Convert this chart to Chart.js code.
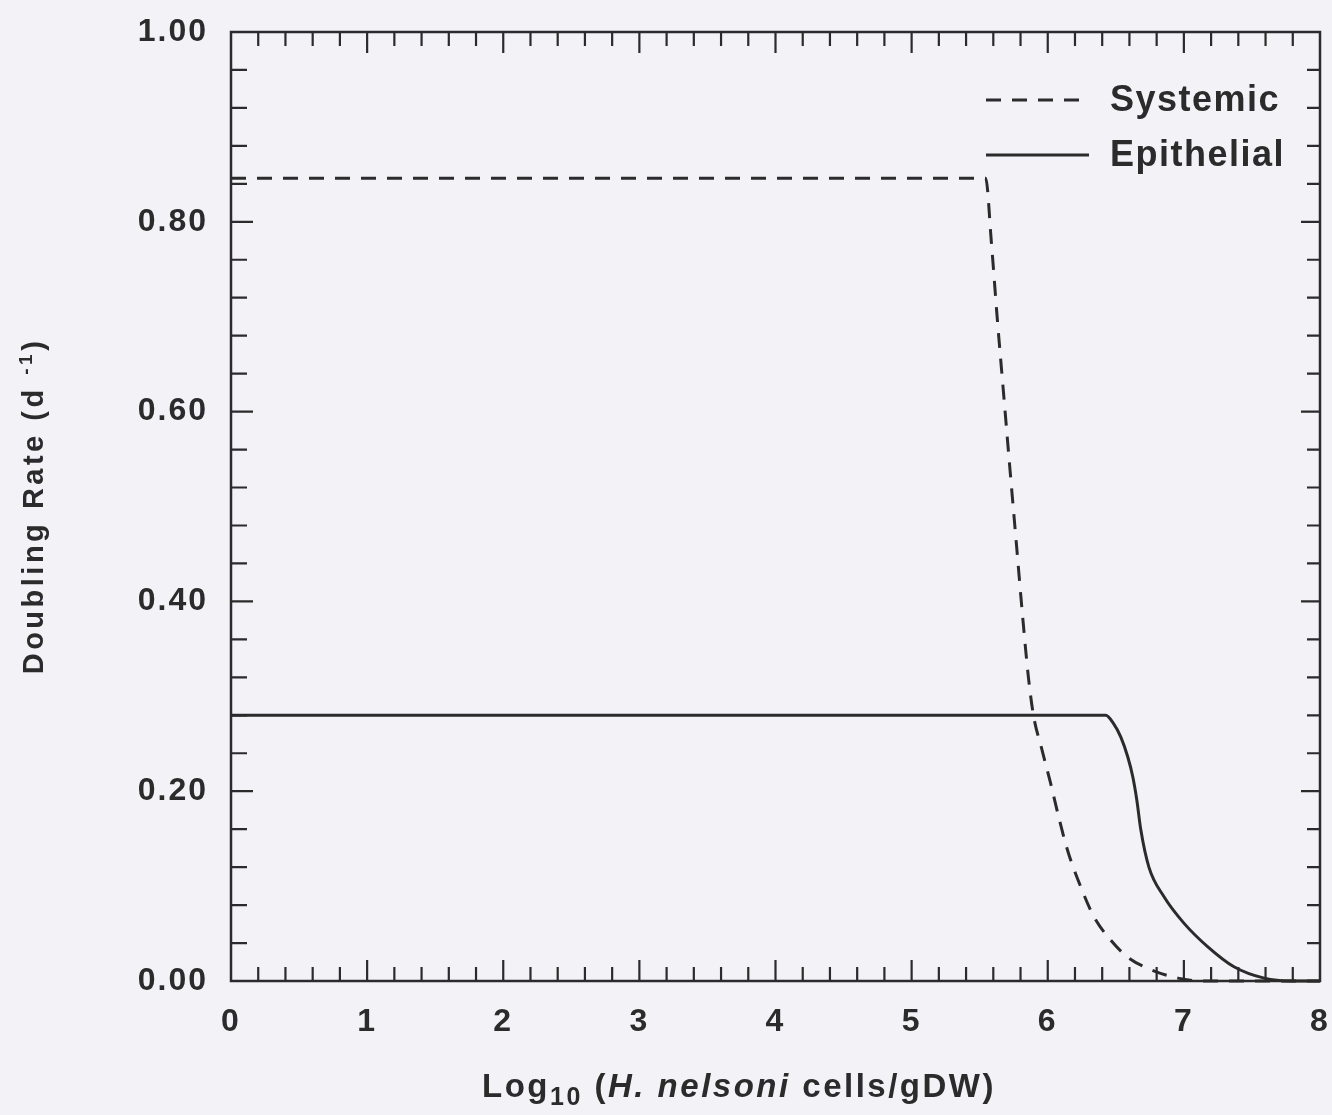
<!DOCTYPE html>
<html>
<head>
<meta charset="utf-8">
<script src="https://cdn.jsdelivr.net/npm/chart.js@4.4.1/dist/chart.umd.min.js"></script>
<style>
  html, body { margin: 0; padding: 0; background: #f3f2f7; }
  #wrap { width: 1332px; height: 1115px; }
</style>
</head>
<body>
<div id="wrap"><canvas id="chart" width="1332" height="1115"></canvas></div>
<script>
// tick labels
const xTickLabels = [0, 1, 2, 3, 4, 5, 6, 7, 8];
const yTickLabels = [0, 0.2, 0.4, 0.6, 0.8, 1.0];
const xMinorStep = 0.2;
const yMinorStep = 0.04;

// series
const systemicX = [0, 5.544, 5.585, 5.628, 5.675, 5.722, 5.770, 5.818, 5.858, 5.895, 5.955, 6.020, 6.080, 6.147, 6.243, 6.338, 6.463, 6.588, 6.757, 6.956, 7.15, 8.0];
const systemicY = [0.846, 0.846, 0.780, 0.700, 0.620, 0.540, 0.460, 0.380, 0.320, 0.280, 0.245, 0.209, 0.173, 0.137, 0.099, 0.068, 0.043, 0.025, 0.012, 0.003, 0.0, 0.0];

const epithelialX = [0, 6.426, 6.48, 6.537, 6.588, 6.625, 6.654, 6.684, 6.743, 6.853, 7.00, 7.176, 7.368, 7.59, 7.79, 8.0];
const epithelialY = [0.280, 0.280, 0.272, 0.257, 0.236, 0.215, 0.191, 0.159, 0.120, 0.089, 0.061, 0.036, 0.015, 0.003, 0.0, 0.0];

const ink = "#2b2b2b";
const fontFamily = "'Liberation Sans', Arial, sans-serif";

function toPoints(xs, ys) {
  return xs.map((x, i) => ({ x: x, y: ys[i] }));
}

const spacingPlugin = {
  id: "spacing",
  beforeLayout(chart) { chart.ctx.letterSpacing = "2px"; },
  beforeDraw(chart) {
    const ctx = chart.ctx;
    ctx.save();
    ctx.fillStyle = "#f3f2f7";
    ctx.fillRect(0, 0, chart.width, chart.height);
    ctx.restore();
    ctx.letterSpacing = "2px";
  }
};

// frame with inward ticks on all four sides
const framePlugin = {
  id: "frame",
  afterDatasetsDraw(chart) {
    const ctx = chart.ctx;
    const a = chart.chartArea;
    const xs = chart.scales.x, ys = chart.scales.y;
    ctx.save();
    ctx.strokeStyle = ink;
    ctx.lineWidth = 2.5;
    ctx.strokeRect(a.left, a.top, a.right - a.left, a.bottom - a.top);
    ctx.lineWidth = 2.2;
    ctx.beginPath();
    const nx = Math.round((xs.max - xs.min) / xMinorStep);
    for (let i = 1; i < nx; i++) {
      const px = xs.getPixelForValue(xs.min + i * xMinorStep);
      const len = i % 5 === 0 ? 21 : 14;
      ctx.moveTo(px, a.bottom); ctx.lineTo(px, a.bottom - len);
      ctx.moveTo(px, a.top); ctx.lineTo(px, a.top + len);
    }
    const ny = Math.round((ys.max - ys.min) / yMinorStep);
    for (let i = 1; i < ny; i++) {
      const py = ys.getPixelForValue(ys.min + i * yMinorStep);
      const len = i % 5 === 0 ? 22 : 16;
      ctx.moveTo(a.left, py); ctx.lineTo(a.left + len, py);
      ctx.moveTo(a.right, py); ctx.lineTo(a.right - len + 3, py);
    }
    ctx.stroke();
    ctx.restore();
  }
};

function drawRuns(ctx, runs, x, y, align) {
  let total = 0;
  runs.forEach(r => { ctx.font = r.font; total += ctx.measureText(r.text).width; });
  let cx = align === "center" ? x - total / 2 : x;
  runs.forEach(r => {
    ctx.font = r.font;
    ctx.fillText(r.text, cx, y + (r.dy || 0));
    cx += ctx.measureText(r.text).width;
  });
}

const titlePlugin = {
  id: "titles",
  afterDraw(chart) {
    const ctx = chart.ctx;
    ctx.save();
    ctx.fillStyle = ink;
    ctx.textBaseline = "alphabetic";
    ctx.textAlign = "left";
    ctx.letterSpacing = "2.5px";
    drawRuns(ctx, [
      { text: "Log", font: "bold 33px " + fontFamily },
      { text: "10", font: "bold 25px " + fontFamily, dy: 8 },
      { text: " (", font: "bold 33px " + fontFamily },
      { text: "H. nelsoni", font: "italic bold 33px " + fontFamily },
      { text: " cells/gDW)", font: "bold 33px " + fontFamily }
    ], 739, 1097, "center");

    ctx.translate(43, 506);
    ctx.rotate(-Math.PI / 2);
    ctx.letterSpacing = "3.5px";
    drawRuns(ctx, [
      { text: "Doubling Rate (d ", font: "bold 29px " + fontFamily },
      { text: "-1", font: "bold 19px " + fontFamily, dy: -11 },
      { text: ")", font: "bold 29px " + fontFamily }
    ], 0, 0, "center");
    ctx.restore();
  }
};

const legendPlugin = {
  id: "inlineLegend",
  afterDraw(chart) {
    const ctx = chart.ctx;
    const rows = [{ ds: 0, y: 100 }, { ds: 1, y: 155 }];
    ctx.save();
    ctx.letterSpacing = "1.5px";
    rows.forEach(r => {
      const d = chart.data.datasets[r.ds];
      ctx.strokeStyle = d.borderColor;
      ctx.lineWidth = d.borderWidth;
      ctx.setLineDash(d.borderDash || []);
      ctx.beginPath();
      ctx.moveTo(986, r.y);
      ctx.lineTo(1089, r.y);
      ctx.stroke();
      ctx.setLineDash([]);
      ctx.fillStyle = ink;
      ctx.font = "bold 36px " + fontFamily;
      ctx.textBaseline = "middle";
      ctx.fillText(d.label, 1110, r.y + 1);
    });
    ctx.restore();
  }
};

new Chart(document.getElementById("chart"), {
  type: "line",
  data: {
    datasets: [
      {
        label: "Systemic",
        data: toPoints(systemicX, systemicY),
        borderColor: ink,
        borderWidth: 3,
        borderDash: [15, 11],
        pointRadius: 0,
        cubicInterpolationMode: "monotone",
        fill: false,
        clip: 6
      },
      {
        label: "Epithelial",
        data: toPoints(epithelialX, epithelialY),
        borderColor: ink,
        borderWidth: 3,
        pointRadius: 0,
        cubicInterpolationMode: "monotone",
        fill: false,
        clip: 6
      }
    ]
  },
  options: {
    responsive: false,
    animation: false,
    devicePixelRatio: 1,
    layout: { padding: { top: 32, right: 12, left: 0, bottom: 0 } },
    plugins: {
      legend: { display: false },
      tooltip: { enabled: false }
    },
    scales: {
      x: {
        type: "linear",
        min: 0,
        max: 8,
        grid: { display: false },
        border: { display: false },
        ticks: {
          color: ink,
          padding: 14,
          font: { family: fontFamily, size: 32, weight: "bold" }
        },
        afterBuildTicks(s) { s.ticks = xTickLabels.map(v => ({ value: v })); },
        afterFit(s) {
          s.height = 134;
          s.paddingLeft = 0;
          s.paddingRight = 0;
        }
      },
      y: {
        type: "linear",
        min: 0,
        max: 1,
        grid: { display: false },
        border: { display: false },
        ticks: {
          color: ink,
          padding: 15,
          font: { family: fontFamily, size: 32, weight: "bold" },
          callback: v => v.toFixed(2)
        },
        afterBuildTicks(s) { s.ticks = yTickLabels.map(v => ({ value: v })); },
        afterFit(s) {
          s.width = 231;
          s.paddingTop = 0;
          s.paddingBottom = 0;
        }
      }
    }
  },
  plugins: [spacingPlugin, framePlugin, titlePlugin, legendPlugin]
});
</script>
</body>
</html>
